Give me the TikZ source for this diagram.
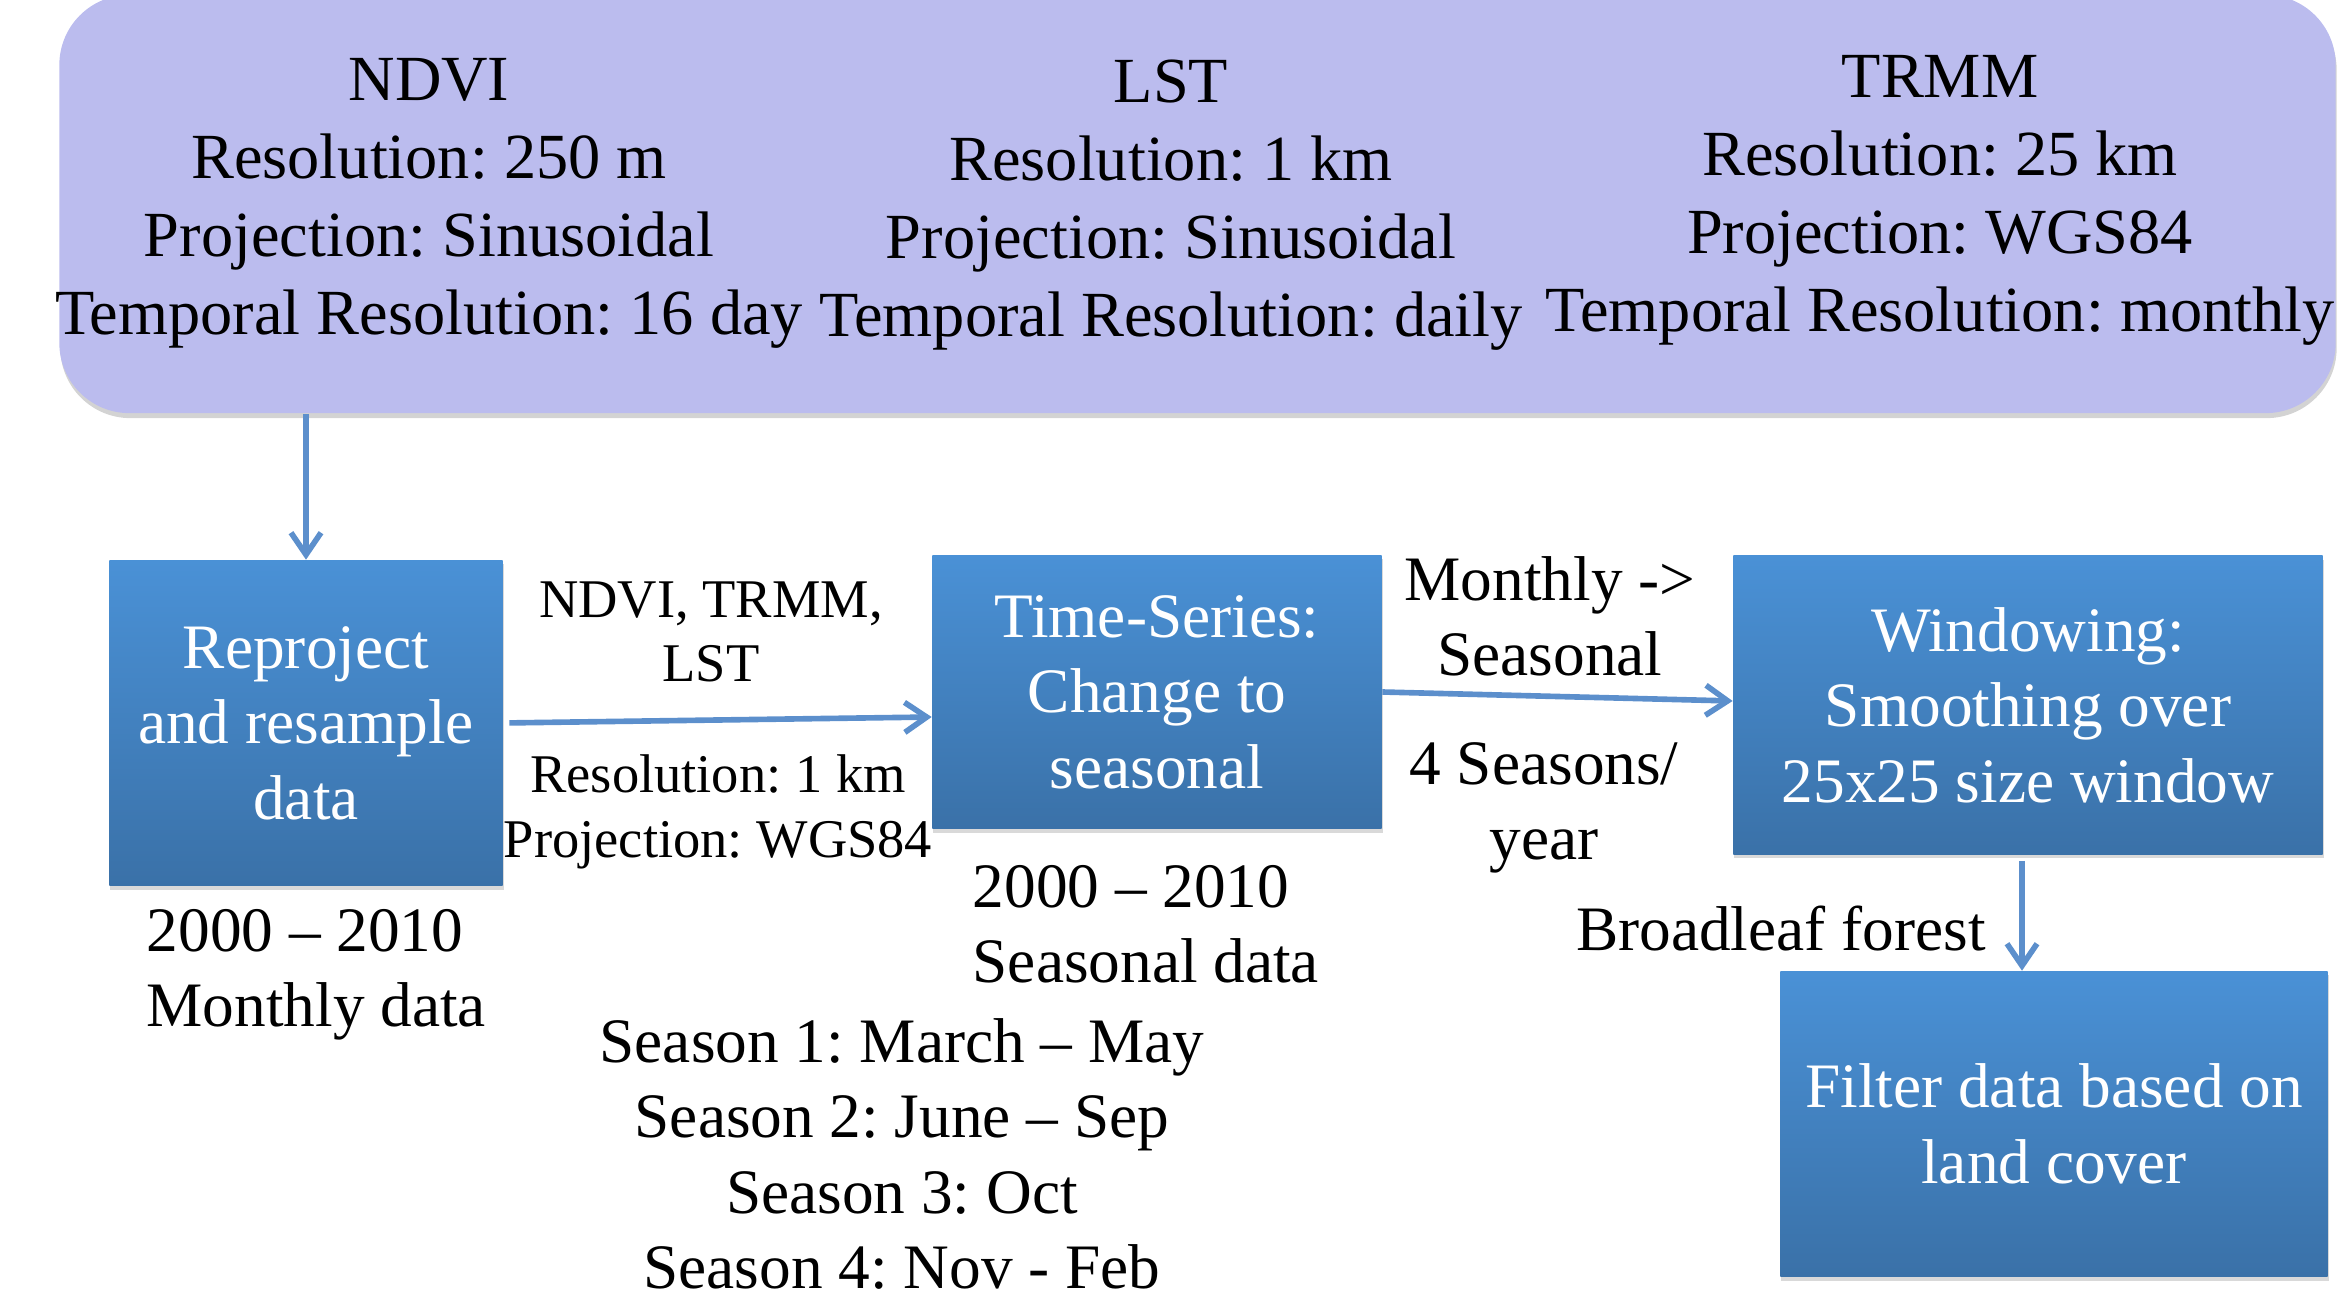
\documentclass[tikz,border=0pt]{standalone}
\usepackage{fontspec}
\setmainfont{Liberation Serif}
\usetikzlibrary{arrows.meta,shadows,calc}

\definecolor{panelfill}{RGB}{187,188,238}
\definecolor{stepTop}{RGB}{74,145,214}
\definecolor{stepBot}{RGB}{58,113,168}
\definecolor{flowline}{RGB}{92,143,204}

\begin{document}
\frenchspacing
\begin{tikzpicture}[x=0.01cm, y=-0.01cm,
  panel/.style={fill=panelfill, draw=none, rounded corners=0.7cm,
    drop shadow={shadow xshift=0.01cm, shadow yshift=-0.05cm, opacity=0.35}},
  toptext/.style={inner sep=0pt, align=center, font=\fontsize{18.3}{22.2}\selectfont},
  stepbox/.style={top color=stepTop, bottom color=stepBot, draw=none, inner sep=0pt,
    align=center, text=white, font=\fontsize{18}{21.5}\selectfont,
    drop shadow={shadow xshift=0.01cm, shadow yshift=-0.04cm, opacity=0.3}},
  note/.style={inner sep=0pt, align=center, font=\fontsize{18}{21.4}\selectfont},
  smallnote/.style={inner sep=0pt, align=center, font=\fontsize{15.5}{18.4}\selectfont},
  flow/.style={draw=flowline, line width=1.6pt, -{Straight Barb[length=0.22cm, width=0.3cm]}}
]
\useasboundingbox (0,0) rectangle (2337,1301);

% source data panel
\node[panel, minimum width=22.75cm, minimum height=4.18cm] (panel) at (1197.5,204) {};
\node[toptext] (ndvi) at (429,203) {NDVI\\Resolution: 250 m\\Projection: Sinusoidal\\Temporal Resolution: 16 day};
\node[toptext] (lst) at (1171,205) {LST\\Resolution: 1 km\\Projection: Sinusoidal\\Temporal Resolution: daily};
\node[toptext] (trmm) at (1940,200) {TRMM\\Resolution: 25 km\\Projection: WGS84\\Temporal Resolution: monthly};

% processing steps
\node[stepbox, minimum width=3.93cm, minimum height=3.25cm] (reproj) at (306,723) {Reproject\\and resample\\data};
\node[stepbox, minimum width=4.49cm, minimum height=2.73cm] (series) at (1157,692) {Time-Series:\\Change to\\seasonal};
\node[stepbox, minimum width=5.89cm, minimum height=2.98cm] (window) at (2028,705) {Windowing:\\Smoothing over\\25x25 size window};
\node[stepbox, minimum width=5.47cm, minimum height=3.05cm] (filter) at (2054,1124) {Filter data based on\\land cover};

% annotations
\node[smallnote] (varlist) at (711,632) {NDVI, TRMM,\\LST};
\node[smallnote] (target) at (718,812) {Resolution: 1 km\\Projection: WGS84};
\node[note, align=left, anchor=west] (monthly) at (146,975) {2000 – 2010\\Monthly data};
\node[note, align=left, anchor=west] (seasonal) at (972,924) {2000 – 2010\\Seasonal data};
\node[note] (convert) at (1550,616) {Monthly ->\\Seasonal};
\node[note] (peryear) at (1544,808) {4 Seasons/\\year};
\node[note] (forest) at (1781,929) {Broadleaf forest};
\node[note] (seasons) at (902,1154) {Season 1: March – May\\Season 2: June – Sep\\Season 3: Oct\\Season 4: Nov - Feb};

% connectors
\coordinate (filterIn) at ([xshift=-0.32cm]filter.north);
\draw[flow] (reproj.north |- panel.south) -- (reproj.north);
\draw[flow, shorten <=0.06cm] (reproj.east) -- ([yshift=-0.25cm]series.west);
\draw[flow] (series.east) -- ([yshift=0.04cm]window.west);
\draw[flow, shorten <=0.06cm] (window.south -| filterIn) -- (filterIn);
\end{tikzpicture}
\end{document}
